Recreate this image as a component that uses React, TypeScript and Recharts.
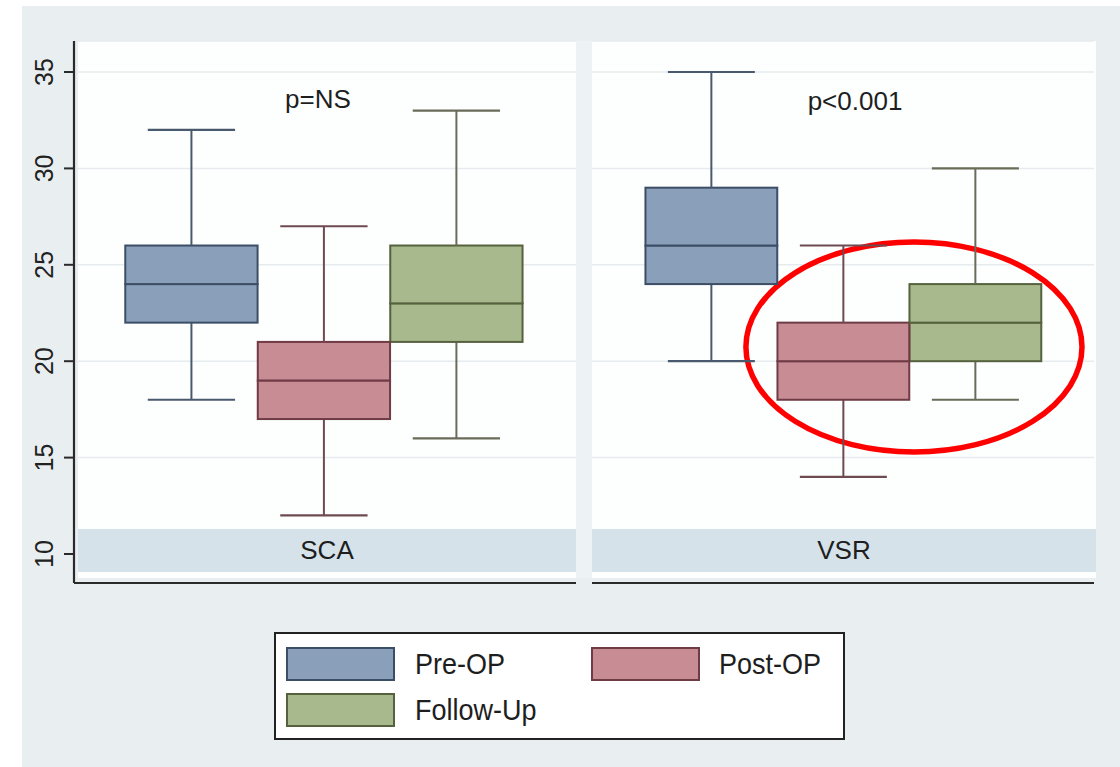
import React from 'react';
import { ComposedChart, Bar, XAxis, YAxis, CartesianGrid, ReferenceArea } from 'recharts';

const groups = ['Pre-OP', 'Post-OP', 'Follow-Up'];
const groupPos = [1, 2, 3];
const yTicks = [10, 15, 20, 25, 30, 35];

const scaMin = [18, 12, 16];
const scaQ1 = [22, 17, 21];
const scaMed = [24, 19, 23];
const scaQ3 = [26, 21, 26];
const scaMax = [32, 27, 33];

const vsrMin = [20, 14, 18];
const vsrQ1 = [24, 18, 20];
const vsrMed = [26, 20, 22];
const vsrQ3 = [29, 22, 24];
const vsrMax = [35, 26, 30];

const fills = ['#8a9fba', '#c88c95', '#a7b98d'];
const strokes = ['#3c4e66', '#6f3b45', '#56623e'];
const whiskerColors = ['#4a5a6e', '#6e4a51', '#6a6b58'];

const FONT = '"Liberation Sans", Arial, Helvetica, sans-serif';

function buildRows(mins: number[], q1s: number[], meds: number[], q3s: number[], maxs: number[]) {
  return groups.map((g, i) => ({
    group: g,
    idx: i,
    pos: groupPos[i],
    base: mins[i],
    lowW: q1s[i] - mins[i],
    boxLo: meds[i] - q1s[i],
    boxHi: q3s[i] - meds[i],
    upW: maxs[i] - q3s[i],
  }));
}

const scaRows = buildRows(scaMin, scaQ1, scaMed, scaQ3, scaMax);
const vsrRows = buildRows(vsrMin, vsrQ1, vsrMed, vsrQ3, vsrMax);

const Empty = () => <g />;

const WhiskerLow = (p: any) => {
  const { x, y, width, height, payload } = p;
  const c = whiskerColors[payload.idx];
  const cx = x + width / 2;
  const cap = width * 0.33;
  return (
    <g>
      <line x1={cx} x2={cx} y1={y} y2={y + height} stroke={c} strokeWidth={2} />
      <line x1={cx - cap} x2={cx + cap} y1={y + height} y2={y + height} stroke={c} strokeWidth={2.2} />
    </g>
  );
};

const WhiskerHigh = (p: any) => {
  const { x, y, width, height, payload } = p;
  const c = whiskerColors[payload.idx];
  const cx = x + width / 2;
  const cap = width * 0.33;
  return (
    <g>
      <line x1={cx} x2={cx} y1={y} y2={y + height} stroke={c} strokeWidth={2} />
      <line x1={cx - cap} x2={cx + cap} y1={y} y2={y} stroke={c} strokeWidth={2.2} />
    </g>
  );
};

const BoxPart = (p: any) => {
  const { x, y, width, height, payload } = p;
  return (
    <rect
      x={x}
      y={y}
      width={width}
      height={height}
      fill={fills[payload.idx]}
      stroke={strokes[payload.idx]}
      strokeWidth={2}
    />
  );
};

const YTick = (p: any) => {
  const { x, y, payload } = p;
  return (
    <text
      transform={`translate(${x - 9}, ${y}) rotate(-90)`}
      textAnchor="middle"
      fontSize={25}
      fontFamily={FONT}
      fill="#222"
    >
      {payload.value}
    </text>
  );
};

const Ellipse = (p: any) => {
  const { x, y, width, height } = p;
  return (
    <ellipse
      cx={x + width / 2}
      cy={y + height / 2}
      rx={width / 2}
      ry={height / 2}
      fill="none"
      stroke="#ff0000"
      strokeWidth={5.5}
    />
  );
};

const Y_DOMAIN: [number, number] = [8.496, 36.608];

function Series({ barSize }: { barSize: number }) {
  return (
    <>
      <Bar dataKey="base" stackId="s" shape={<Empty />} isAnimationActive={false} barSize={barSize} />
      <Bar dataKey="lowW" stackId="s" shape={<WhiskerLow />} isAnimationActive={false} barSize={barSize} />
      <Bar dataKey="boxLo" stackId="s" shape={<BoxPart />} isAnimationActive={false} barSize={barSize} />
      <Bar dataKey="boxHi" stackId="s" shape={<BoxPart />} isAnimationActive={false} barSize={barSize} />
      <Bar dataKey="upW" stackId="s" shape={<WhiskerHigh />} isAnimationActive={false} barSize={barSize} />
    </>
  );
}

const legendItems = [
  { name: groups[0], idx: 0, left: 286, top: 647, textLeft: 415 },
  { name: groups[1], idx: 1, left: 591, top: 647, textLeft: 719 },
  { name: groups[2], idx: 2, left: 286, top: 693, textLeft: 415 },
];

export default function App() {
  return (
    <div
      style={{
        position: 'absolute',
        left: 0,
        top: 0,
        width: 1120,
        height: 767,
        background: '#ffffff',
        overflow: 'hidden',
        fontFamily: FONT,
      }}
    >
      <div style={{ position: 'absolute', left: 22, top: 6, width: 1098, height: 761, background: '#e9eff1' }} />
      <div style={{ position: 'absolute', left: 576, top: 41, width: 16, height: 537, background: '#edf2f4' }} />
      <div style={{ position: 'absolute', left: 78, top: 41, width: 498, height: 537, background: '#fdfefe' }} />
      <div style={{ position: 'absolute', left: 592, top: 41, width: 504, height: 537, background: '#fdfefe' }} />

      {/* Left panel: SCA */}
      <div style={{ position: 'absolute', left: 0, top: 0 }}>
        <ComposedChart
          width={580}
          height={600}
          data={scaRows}
          margin={{ top: 41, right: 4, bottom: 15, left: 30 }}
          barCategoryGap="0%"
          barGap={0}
        >
          <CartesianGrid horizontal vertical={false} stroke="#e6ebee" strokeWidth={1.5} />
          <XAxis
            type="number"
            dataKey="pos"
            domain={[0.113, 3.902]}
            allowDataOverflow
            ticks={groupPos}
            tick={false}
            tickLine={false}
            height={2}
            axisLine={{ stroke: '#2a2a2a', strokeWidth: 2.2 }}
          />
          <YAxis
            type="number"
            domain={Y_DOMAIN}
            allowDataOverflow
            ticks={yTicks}
            width={44}
            tickSize={10}
            tick={<YTick />}
            tickLine={{ stroke: '#2a2a2a', strokeWidth: 2 }}
            axisLine={{ stroke: '#2a2a2a', strokeWidth: 2.2 }}
          />
          {Series({ barSize: 132.3 })}
        </ComposedChart>
      </div>

      {/* Right panel: VSR */}
      <div style={{ position: 'absolute', left: 560, top: 0 }}>
        <ComposedChart
          width={560}
          height={600}
          data={vsrRows}
          margin={{ top: 41, right: 26, bottom: 15, left: 32 }}
          barCategoryGap="0%"
          barGap={0}
        >
          <CartesianGrid horizontal vertical={false} stroke="#e6ebee" strokeWidth={1.5} />
          <XAxis
            type="number"
            dataKey="pos"
            domain={[0.095, 3.898]}
            allowDataOverflow
            ticks={groupPos}
            tick={false}
            tickLine={false}
            height={2}
            axisLine={{ stroke: '#2a2a2a', strokeWidth: 2.2 }}
          />
          <YAxis type="number" domain={Y_DOMAIN} allowDataOverflow ticks={yTicks} hide />
          {Series({ barSize: 131.8 })}
          <ReferenceArea x1={1.261} x2={3.807} y1={15.29} y2={26.18} shape={<Ellipse />} ifOverflow="visible" />
        </ComposedChart>
      </div>

      {/* Panel strips */}
      <div
        style={{
          position: 'absolute', left: 78, top: 529, width: 498, height: 43, background: '#d5e2ea',
          display: 'flex', alignItems: 'center', justifyContent: 'center', fontSize: 26, color: '#1e1e1e',
        }}
      >
        SCA
      </div>
      <div
        style={{
          position: 'absolute', left: 592, top: 529, width: 504, height: 43, background: '#d5e2ea',
          display: 'flex', alignItems: 'center', justifyContent: 'center', fontSize: 26, color: '#1e1e1e',
        }}
      >
        VSR
      </div>

      {/* p-values */}
      <div style={{ position: 'absolute', left: 218, top: 84, width: 200, textAlign: 'center', fontSize: 26, color: '#1e1e1e' }}>
        p=NS
      </div>
      <div style={{ position: 'absolute', left: 755, top: 86, width: 200, textAlign: 'center', fontSize: 26, color: '#1e1e1e' }}>
        p&lt;0.001
      </div>

      {/* Legend */}
      <div
        style={{
          position: 'absolute', left: 274, top: 632, width: 571, height: 108, background: '#ffffff',
          border: '2px solid #222', boxSizing: 'border-box',
        }}
      />
      {legendItems.map((it) => (
        <React.Fragment key={it.name}>
          <div
            style={{
              position: 'absolute', left: it.left, top: it.top, width: 109, height: 34, background: fills[it.idx],
              border: `2px solid ${strokes[it.idx]}`, boxSizing: 'border-box',
            }}
          />
          <div
            style={{
              position: 'absolute', left: it.textLeft, top: it.top - 1, fontSize: 27, lineHeight: '36px', color: '#1e1e1e',
              transform: 'scaleY(1.08)',
            }}
          >
            {it.name}
          </div>
        </React.Fragment>
      ))}
    </div>
  );
}
